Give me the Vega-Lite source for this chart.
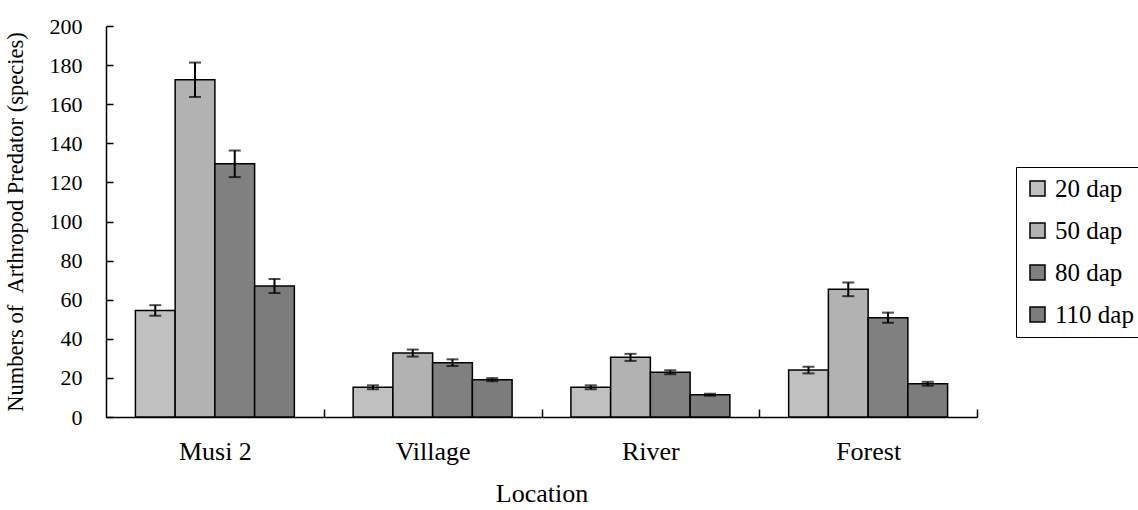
{
  "$schema": "https://vega.github.io/schema/vega-lite/v6.json",
  "autosize": "none",
  "width": 871,
  "height": 391,
  "padding": {"left": 106, "top": 26, "right": 161, "bottom": 93},
  "background": "white",
  "data": {"values": [
    {"loc": "Musi 2", "period": "20 dap", "mean": 54.5, "lo": 51.8, "hi": 57.2},
    {"loc": "Musi 2", "period": "50 dap", "mean": 172.5, "lo": 163.7, "hi": 181.3},
    {"loc": "Musi 2", "period": "80 dap", "mean": 129.5, "lo": 122.7, "hi": 136.3},
    {"loc": "Musi 2", "period": "110 dap", "mean": 67, "lo": 63.4, "hi": 70.6},
    {"loc": "Village", "period": "20 dap", "mean": 15.2, "lo": 14.2, "hi": 16.2},
    {"loc": "Village", "period": "50 dap", "mean": 32.7, "lo": 30.9, "hi": 34.5},
    {"loc": "Village", "period": "80 dap", "mean": 27.8, "lo": 26.1, "hi": 29.5},
    {"loc": "Village", "period": "110 dap", "mean": 19.1, "lo": 18.3, "hi": 19.9},
    {"loc": "River", "period": "20 dap", "mean": 15.2, "lo": 14.2, "hi": 16.2},
    {"loc": "River", "period": "50 dap", "mean": 30.5, "lo": 28.7, "hi": 32.3},
    {"loc": "River", "period": "80 dap", "mean": 22.9, "lo": 21.9, "hi": 23.9},
    {"loc": "River", "period": "110 dap", "mean": 11.4, "lo": 10.9, "hi": 11.9},
    {"loc": "Forest", "period": "20 dap", "mean": 24, "lo": 22.3, "hi": 25.7},
    {"loc": "Forest", "period": "50 dap", "mean": 65.3, "lo": 61.8, "hi": 68.8},
    {"loc": "Forest", "period": "80 dap", "mean": 50.8, "lo": 48.2, "hi": 53.4},
    {"loc": "Forest", "period": "110 dap", "mean": 17, "lo": 16, "hi": 18}
  ]},
  "config": {
    "font": "Liberation Serif",
    "view": {"stroke": null},
    "axis": {
      "domainColor": "black", "domainWidth": 1.5,
      "tickColor": "black", "tickWidth": 1.5,
      "labelFont": "Liberation Serif", "labelColor": "black",
      "titleFont": "Liberation Serif", "titleFontWeight": "normal", "titleColor": "black",
      "grid": false
    },
    "legend": {"labelFont": "Liberation Serif"}
  },
  "encoding": {
    "x": {
      "field": "loc", "type": "nominal",
      "sort": ["Musi 2", "Village", "River", "Forest"],
      "scale": {"paddingInner": 0.27, "paddingOuter": 0.135},
      "axis": {"title": "Location", "labelAngle": 0, "tickSize": -8, "tickOffset": 108.875, "labelOffset": -108.875, "labelPadding": 29, "labelFontSize": 26, "titleFontSize": 26, "titlePadding": 16}
    },
    "xOffset": {
      "field": "period", "type": "nominal",
      "sort": ["20 dap", "50 dap", "80 dap", "110 dap"],
      "scale": {"paddingInner": 0, "paddingOuter": 0}
    },
    "y": {
      "field": "mean", "type": "quantitative",
      "scale": {"domain": [0, 200], "nice": false},
      "axis": {"title": "Numbers of\u00a0\u00a0Arthropod Predator (species)", "values": [0,20,40,60,80,100,120,140,160,180,200], "labelOverlap": false, "labelBound": false, "labelFlush": false, "tickSize": -7, "labelPadding": 31, "labelFontSize": 22, "titleFontSize": 22.5, "titlePadding": 22}
    }
  },
  "layer": [
    {
      "mark": {"type": "bar", "stroke": "black", "strokeWidth": 1.5},
      "encoding": {
        "color": {
          "field": "period", "type": "nominal",
          "sort": ["20 dap", "50 dap", "80 dap", "110 dap"],
          "scale": {"domain": ["20 dap", "50 dap", "80 dap", "110 dap"], "range": ["#c0c0c0", "#b2b2b2", "#808080", "#7c7c7c"]},
          "legend": {
            "title": null, "orient": "none", "legendX": 910, "legendY": 141,
            "strokeColor": "black", "padding": 9,
            "symbolType": "square", "symbolSize": 225, "symbolStrokeColor": "black", "symbolStrokeWidth": 1.5,
            "labelFont": "Liberation Serif", "labelFontSize": 25, "labelColor": "black",
            "labelOffset": 5, "rowPadding": 16
          }
        }
      }
    },
    {
      "mark": {"type": "rule", "color": "black", "strokeWidth": 2},
      "encoding": {
        "y": {"field": "lo", "type": "quantitative"},
        "y2": {"field": "hi"}
      }
    },
    {
      "mark": {"type": "tick", "color": "black", "thickness": 2, "size": 12},
      "encoding": {"y": {"field": "lo", "type": "quantitative"}}
    },
    {
      "mark": {"type": "tick", "color": "black", "thickness": 2, "size": 12},
      "encoding": {"y": {"field": "hi", "type": "quantitative"}}
    }
  ]
}
